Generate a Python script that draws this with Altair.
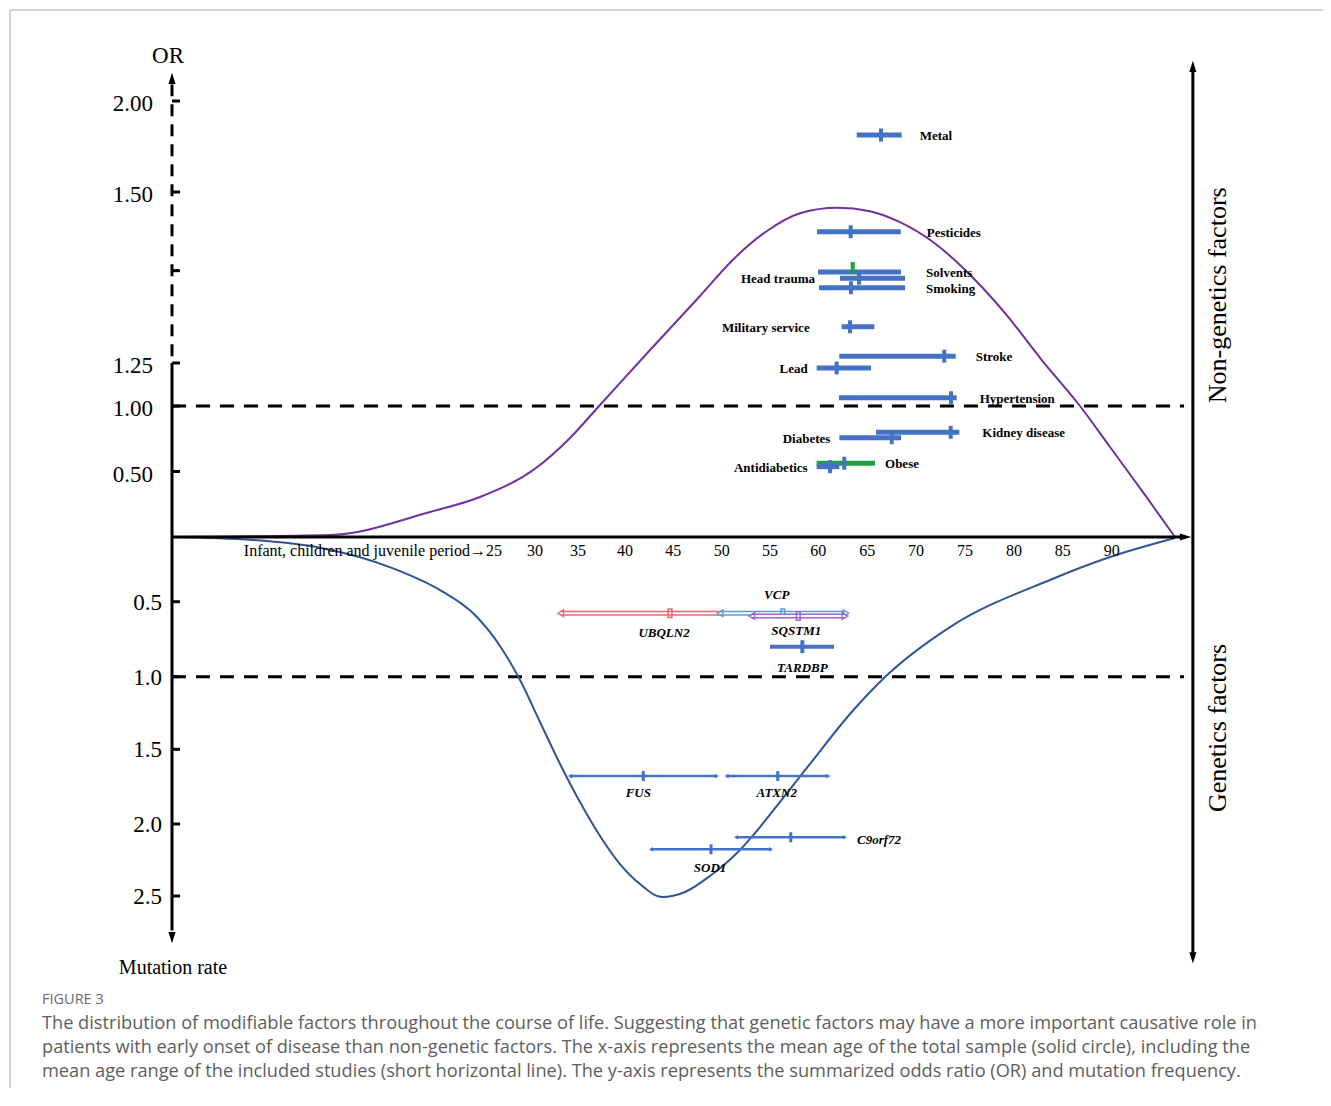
import altair as alt
import pandas as pd

# ---------------- colours / fonts ----------------
BLUE = "#4472c4"
DARKBLUE = "#2f5597"
PURPLE = "#7030a0"
GREEN = "#1fa045"
SERIF = "Liberation Serif"
SANS = "Open Sans"

# ---------------- axis definitions (piecewise, broken axes) ----------------
AGE_BREAKS = [0, 25, 30, 35, 40, 60, 90, 100]
AGE_RANGE = [164, 484, 527, 570, 617, 810.3, 1103.7, 1201.5]
# y: positive = OR (upper half), negative = -mutation rate (lower half)
Y_BREAKS = [-3.0, -2.5, -2.0, -1.5, -1.0, -0.5, 0, 0.5, 1.0, 1.25, 1.5, 2.0, 2.5]
Y_RANGE = [960, 888, 816, 741.3, 668.7, 593.7, 529, 463.5, 398, 355, 184, 93, 2]

X_TICKS = [30, 35, 40, 45, 50, 55, 60, 65, 70, 75, 80, 85, 90]
X_FIRST_LABEL = "Infant, children and juvenile period\u219225"
OR_TICKS = [0.5, 1.0, 1.25, 1.5, 2.0]
OR_TICK_LABELS = ["0.50", "1.00", "1.25", "1.50", "2.00"]
OR_BREAK = [1.385]
MR_TICKS = [0.5, 1.0, 1.5, 2.0, 2.5]
MR_TICK_LABELS = ["0.5", "1.0", "1.5", "2.0", "2.5"]

# ---------------- curves ----------------
PURPLE_AGE = [0, 12.34, 20.16, 24.06, 30.12, 34.07, 37.34, 42.59, 47.76, 51.17, 54.69, 58.11,
              61.91, 65.29, 68.35, 71.73, 75.51, 79.09, 82.87, 86.76, 89.83, 93.40, 96.47]
PURPLE_OR = [0, 0.015, 0.191, 0.305, 0.527, 0.756, 1.006, 1.269, 1.348, 1.401, 1.443, 1.469,
             1.477, 1.472, 1.456, 1.427, 1.379, 1.323, 1.254, 1.0, 0.687, 0.321, 0.0]
BLUE_AGE = [0, 6.33, 11.56, 17.27, 20.94, 23.67, 25.93, 28.26, 30.58, 32.91, 35.21, 37.34, 39.47,
            41.55, 43.83, 46.21, 48.79, 51.59, 53.97, 56.35, 59.14, 63.24, 66.82, 73.47, 83.69,
            89.83, 96.47]
BLUE_MR = [0, 0.023, 0.083, 0.242, 0.410, 0.589, 0.795, 1.023, 1.312, 1.598, 1.853, 2.083, 2.278,
           2.417, 2.507, 2.472, 2.361, 2.201, 2.021, 1.826, 1.598, 1.257, 1.002, 0.669, 0.332,
           0.155, 0.008]

# ---------------- non-genetic factors (OR) ----------------
NG_NAMES = ["Metal", "Pesticides", "Solvents", "Head trauma", "Smoking", "Military service",
            "Stroke", "Lead", "Hypertension", "Kidney disease", "Diabetes", "Obese", "Antidiabetics"]
NG_OR = [1.813, 1.442, 1.383, 1.374, 1.360, 1.303, 1.260, 1.221, 1.048, 0.799, 0.758, 0.563, 0.537]
NG_LO = [63.93, 59.87, 59.97, 62.22, 60.07, 62.39, 62.15, 59.83, 62.12, 65.90, 62.15, 59.83, 59.83]
NG_HI = [68.53, 68.43, 68.46, 68.87, 68.87, 65.73, 74.05, 65.39, 74.15, 74.42, 68.46, 65.80, 62.15]
NG_MEAN = [66.41, 63.31, 63.52, 64.16, 63.34, 63.24, 72.88, 61.88, 73.57, 73.54, 67.51, 62.66, 61.20]

# ---------------- genetic factors (mutation rate) ----------------
G_NAMES = ["UBQLN2", "VCP", "SQSTM1", "TARDBP", "FUS", "ATXN2", "C9orf72", "SOD1"]
G_MR = [0.577, 0.577, 0.595, 0.80, 1.679, 1.679, 2.092, 2.176]
G_LO = [32.99, 49.83, 53.11, 55.00, 34.07, 50.52, 51.49, 42.69]
G_HI = [49.83, 62.83, 62.73, 61.61, 49.49, 61.02, 62.73, 55.11]
G_MEAN = [44.66, 56.32, 57.93, 58.35, 41.89, 55.80, 57.15, 48.90]

CAPTION_HEAD = "FIGURE 3"
CAPTION_LINES = [
    "The distribution of modifiable factors throughout the course of life. Suggesting that genetic factors may have a more important causative role in",
    "patients with early onset of disease than non-genetic factors. The x-axis represents the mean age of the total sample (solid circle), including the",
    "mean age range of the included studies (short horizontal line). The y-axis represents the summarized odds ratio (OR) and mutation frequency.",
]

# ---------------- styling / layout (not data) ----------------
NG_GREEN_BAR = ["Obese"]
NG_GREEN_TICK = ["Solvents"]
NG_LABEL_LAYOUT = {  # side, pixel gap from the bar end
    "Metal": ("right", 18), "Pesticides": ("right", 26), "Solvents": ("right", 25),
    "Smoking": ("right", 21), "Stroke": ("right", 20), "Hypertension": ("right", 23),
    "Kidney disease": ("right", 23), "Obese": ("right", 10),
    "Head trauma": ("left", 25), "Military service": ("left", 32), "Lead": ("left", 9),
    "Diabetes": ("left", 9), "Antidiabetics": ("left", 9),
}
G_HOLLOW = {"UBQLN2": "#e06c6c", "VCP": "#5b9bd5", "SQSTM1": "#9966cc"}
G_ARROWED = ["FUS", "ATXN2", "C9orf72", "SOD1"]
G_LABEL_LAYOUT = {  # dx, dy, align (anchored at mean, or bar end for 'left')
    "UBQLN2": (-6, 20, "center"), "VCP": (-6, -18, "center"), "SQSTM1": (-2, 15, "center"),
    "TARDBP": (0, 21, "center"), "FUS": (-5, 17, "center"), "ATXN2": (-1, 17, "center"),
    "SOD1": (-1, 19, "center"), "C9orf72": (12, 3, "left"),
}
ARROW_UP = "M0,-1L0.62,1L-0.62,1Z"
ARROW_DOWN = "M0,1L0.62,-1L-0.62,-1Z"
ARROW_RIGHT = "M1,0L-1,0.62L-1,-0.62Z"

XS = alt.Scale(domain=AGE_BREAKS, range=AGE_RANGE, nice=False, zero=False)
YS = alt.Scale(domain=Y_BREAKS, range=Y_RANGE, nice=False, zero=False)


def X(f):
    return alt.X(f, type="quantitative", scale=XS, axis=None)


def Y(f):
    return alt.Y(f, type="quantitative", scale=YS, axis=None)


layers = []
one = pd.DataFrame({"k": [0]})

# frame of the figure box
layers.append(alt.Chart(one).mark_rule(color="#a8a8a8", strokeWidth=1).encode(
    x=alt.value(2), x2=alt.value(1315), y=alt.value(2)))
layers.append(alt.Chart(one).mark_rule(color="#a8a8a8", strokeWidth=1).encode(
    x=alt.value(2), y=alt.value(2), y2=alt.value(1080)))

# dashed reference lines OR = 1 and mutation rate = 1
ref = pd.DataFrame({"y": [1.0, -1.0], "x0": [0, 0], "x1": [97.4, 97.4]})
layers.append(alt.Chart(ref).mark_rule(color="black", strokeWidth=3, strokeDash=[14, 10]).encode(
    x=X("x0"), x2="x1", y=Y("y")))

# curves
pc = pd.DataFrame({"age": PURPLE_AGE, "y": PURPLE_OR})
layers.append(alt.Chart(pc).mark_line(color=PURPLE, strokeWidth=2, interpolate="monotone").encode(
    x=X("age"), y=Y("y"), order="age:Q"))
bc = pd.DataFrame({"age": BLUE_AGE, "y": [-v for v in BLUE_MR]})
layers.append(alt.Chart(bc).mark_line(color=DARKBLUE, strokeWidth=2, interpolate="monotone").encode(
    x=X("age"), y=Y("y"), order="age:Q"))

# horizontal age axis
hax = pd.DataFrame({"x0": [0], "x1": [97.3], "y": [0]})
layers.append(alt.Chart(hax).mark_rule(color="black", strokeWidth=3).encode(
    x=X("x0"), x2="x1", y=Y("y")))
layers.append(alt.Chart(pd.DataFrame({"x": [97.55], "y": [0]})).mark_point(
    shape=ARROW_RIGHT, filled=True, color="black", size=130, opacity=1).encode(x=X("x"), y=Y("y")))

# left vertical axis: solid lower part, dashed broken upper part
layers.append(alt.Chart(pd.DataFrame({"x": [0], "y0": [1.25], "y1": [-2.74]})).mark_rule(
    color="black", strokeWidth=3).encode(x=X("x"), y=Y("y0"), y2="y1"))
layers.append(alt.Chart(pd.DataFrame({"x": [0], "y0": [1.26], "y1": [2.09]})).mark_rule(
    color="black", strokeWidth=3, strokeDash=[12, 8]).encode(x=X("x"), y=Y("y0"), y2="y1"))
layers.append(alt.Chart(pd.DataFrame({"x": [0], "y": [2.125]})).mark_point(
    shape=ARROW_UP, filled=True, color="black", size=130, opacity=1).encode(x=X("x"), y=Y("y")))
layers.append(alt.Chart(pd.DataFrame({"x": [0], "y": [-2.79]})).mark_point(
    shape=ARROW_DOWN, filled=True, color="black", size=130, opacity=1).encode(x=X("x"), y=Y("y")))

# axis ticks
tick_y = OR_TICKS + OR_BREAK + [-v for v in MR_TICKS]
ticks = pd.DataFrame({"y": tick_y, "x0": [0] * len(tick_y), "x1": [0.62] * len(tick_y)})
layers.append(alt.Chart(ticks).mark_rule(color="black", strokeWidth=3).encode(
    x=X("x0"), x2="x1", y=Y("y")))

# y tick labels
orl = pd.DataFrame({"y": OR_TICKS, "t": OR_TICK_LABELS, "x": [0] * len(OR_TICKS)})
layers.append(alt.Chart(orl).mark_text(font=SERIF, fontSize=23, align="right", baseline="middle",
                                       dx=-19, dy=3, color="black").encode(
    x=X("x"), y=Y("y"), text="t:N"))
mrl = pd.DataFrame({"y": [-v for v in MR_TICKS], "t": MR_TICK_LABELS, "x": [0] * len(MR_TICKS)})
layers.append(alt.Chart(mrl).mark_text(font=SERIF, fontSize=23, align="right", baseline="middle",
                                       dx=-10, dy=1, color="black").encode(
    x=X("x"), y=Y("y"), text="t:N"))

# x tick labels
xl = pd.DataFrame({"x": X_TICKS, "t": [str(v) for v in X_TICKS], "y": [0] * len(X_TICKS)})
layers.append(alt.Chart(xl).mark_text(font=SERIF, fontSize=16, align="center", baseline="middle",
                                      dy=14, color="black").encode(x=X("x"), y=Y("y"), text="t:N"))
layers.append(alt.Chart(pd.DataFrame({"x": [25], "y": [0], "t": [X_FIRST_LABEL]})).mark_text(
    font=SERIF, fontSize=16, align="right", baseline="middle", dx=10, dy=14, color="black").encode(
    x=X("x"), y=Y("y"), text="t:N"))

# axis titles
layers.append(alt.Chart(pd.DataFrame({"x": [0], "y": [2.25], "t": ["OR"]})).mark_text(
    font=SERIF, fontSize=23, align="center", baseline="middle", dx=-4, color="black").encode(
    x=X("x"), y=Y("y"), text="t:N"))
layers.append(alt.Chart(pd.DataFrame({"x": [0], "y": [-3.0], "t": ["Mutation rate"]})).mark_text(
    font=SERIF, fontSize=20, align="center", baseline="middle", dx=1, color="black").encode(
    x=X("x"), y=Y("y"), text="t:N"))

# right double arrow and its labels
layers.append(alt.Chart(pd.DataFrame({"x": [98.3], "y0": [2.17], "y1": [-2.92]})).mark_rule(
    color="black", strokeWidth=3).encode(x=X("x"), y=Y("y0"), y2="y1"))
layers.append(alt.Chart(pd.DataFrame({"x": [98.3], "y": [2.19]})).mark_point(
    shape=ARROW_UP, filled=True, color="black", size=130, opacity=1).encode(x=X("x"), y=Y("y")))
layers.append(alt.Chart(pd.DataFrame({"x": [98.3], "y": [-2.93]})).mark_point(
    shape=ARROW_DOWN, filled=True, color="black", size=130, opacity=1).encode(x=X("x"), y=Y("y")))
side = pd.DataFrame({"x": [100.87, 100.87], "y": [1.349, -1.353],
                     "t": ["Non-genetics factors", "Genetics factors"]})
layers.append(alt.Chart(side).mark_text(font=SERIF, fontSize=26, angle=270, align="center",
                                        baseline="middle", color="black").encode(
    x=X("x"), y=Y("y"), text="t:N"))

# non-genetic factor bars and means
ng = pd.DataFrame({"name": NG_NAMES, "y": NG_OR, "lo": NG_LO, "hi": NG_HI, "mean": NG_MEAN})
ng_blue = ng[~ng["name"].isin(NG_GREEN_BAR)]
ng_green = ng[ng["name"].isin(NG_GREEN_BAR)]
layers.append(alt.Chart(ng_green).mark_rule(color=GREEN, strokeWidth=5).encode(
    x=X("lo"), x2="hi", y=Y("y")))
layers.append(alt.Chart(ng_blue).mark_rule(color=BLUE, strokeWidth=5).encode(
    x=X("lo"), x2="hi", y=Y("y")))
layers.append(alt.Chart(ng[~ng["name"].isin(NG_GREEN_TICK)]).mark_tick(
    color=BLUE, orient="vertical", size=13, thickness=4, opacity=1).encode(x=X("mean"), y=Y("y")))
layers.append(alt.Chart(ng[ng["name"].isin(NG_GREEN_TICK)]).mark_tick(
    color=GREEN, orient="vertical", size=12, thickness=4, opacity=1, yOffset=-4).encode(
    x=X("mean"), y=Y("y")))
for name, (sd, gap) in NG_LABEL_LAYOUT.items():
    sub = ng[ng["name"] == name]
    xfield = "hi" if sd == "right" else "lo"
    layers.append(alt.Chart(sub).mark_text(
        font=SERIF, fontSize=13, fontWeight="bold", color="black", baseline="middle",
        align="left" if sd == "right" else "right", dx=gap if sd == "right" else -gap, dy=1).encode(
        x=X(xfield), y=Y("y"), text="name:N"))

# genetic factor bars
gd = pd.DataFrame({"name": G_NAMES, "y": [-v for v in G_MR], "lo": G_LO, "hi": G_HI, "mean": G_MEAN})
for name, col in G_HOLLOW.items():
    sub = gd[gd["name"] == name]
    layers.append(alt.Chart(sub).mark_rule(color=col, strokeWidth=5).encode(
        x=X("lo"), x2="hi", y=Y("y")))
    layers.append(alt.Chart(sub).mark_rule(color="white", strokeWidth=2).encode(
        x=X("lo"), x2="hi", y=Y("y")))
    layers.append(alt.Chart(sub).mark_point(shape="triangle-left", filled=False, color=col,
                                            size=45, strokeWidth=1.3, opacity=1).encode(
        x=X("lo"), y=Y("y")))
    if name != "UBQLN2":
        layers.append(alt.Chart(sub).mark_point(shape="triangle-right", filled=False, color=col,
                                                size=45, strokeWidth=1.3, opacity=1).encode(
            x=X("hi"), y=Y("y")))
    layers.append(alt.Chart(sub).mark_point(shape="M-0.45,-1L0.45,-1L0.45,1L-0.45,1Z", filled=False,
                                            color=col, size=70, strokeWidth=1.5, opacity=1).encode(
        x=X("mean"), y=Y("y")))

solid = gd[~gd["name"].isin(list(G_HOLLOW))]
tard = solid[solid["name"] == "TARDBP"]
arrowed = solid[solid["name"].isin(G_ARROWED)]
layers.append(alt.Chart(tard).mark_rule(color=BLUE, strokeWidth=4).encode(
    x=X("lo"), x2="hi", y=Y("y")))
layers.append(alt.Chart(arrowed).mark_rule(color=BLUE, strokeWidth=2.5).encode(
    x=X("lo"), x2="hi", y=Y("y")))
layers.append(alt.Chart(arrowed).mark_point(shape="triangle-left", filled=True, color=BLUE,
                                            size=22, opacity=1).encode(x=X("lo"), y=Y("y")))
layers.append(alt.Chart(arrowed).mark_point(shape="triangle-right", filled=True, color=BLUE,
                                            size=22, opacity=1).encode(x=X("hi"), y=Y("y")))
layers.append(alt.Chart(tard).mark_tick(color=BLUE, orient="vertical", size=13, thickness=4,
                                        opacity=1).encode(x=X("mean"), y=Y("y")))
layers.append(alt.Chart(arrowed).mark_tick(color=BLUE, orient="vertical", size=10, thickness=3,
                                           opacity=1).encode(x=X("mean"), y=Y("y")))
for name, (dx, dy, al) in G_LABEL_LAYOUT.items():
    sub = gd[gd["name"] == name]
    xfield = "hi" if al == "left" else "mean"
    layers.append(alt.Chart(sub).mark_text(
        font=SERIF, fontSize=13, fontWeight="bold", fontStyle="italic", color="black",
        baseline="middle", align=al, dx=dx, dy=dy).encode(x=X(xfield), y=Y("y"), text="name:N"))

# caption
layers.append(alt.Chart(one).mark_text(font=SANS, fontSize=14.5, color="#6b6b6b", align="left",
                                       baseline="middle", text=CAPTION_HEAD).encode(
    x=alt.value(34), y=alt.value(992)))
for i, line in enumerate(CAPTION_LINES):
    layers.append(alt.Chart(one).mark_text(font=SANS, fontSize=18.2, color="#5e5e5e", align="left",
                                           baseline="middle", text=line).encode(
        x=alt.value(34), y=alt.value(1016 + 24 * i)))

chart = alt.layer(*layers).properties(
    width=1315, height=1080, padding=0, autosize=alt.AutoSizeParams(type="none")
).configure_view(stroke=None)

chart.save("out.html", embed_options={"renderer": "svg", "actions": False})
